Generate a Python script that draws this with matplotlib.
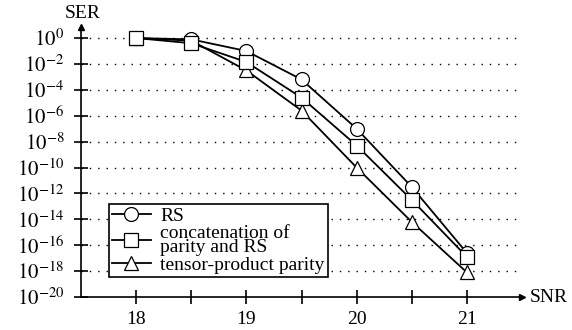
import matplotlib
matplotlib.use("Agg")
import matplotlib.pyplot as plt
import numpy as np

plt.rcParams['font.family'] = ['Liberation Serif', 'DejaVu Serif']
plt.rcParams['mathtext.fontset'] = 'stix'

# SNR values and SER (log10)
snr = [18, 18.5, 19, 19.5, 20, 20.5, 21]
ser_rs = [0, -0.1, -1.0, -3.2, -7.0, -11.5, -16.6]
ser_concat = [0, -0.4, -1.85, -4.6, -8.3, -12.5, -16.9]
ser_tensor = [0, -0.2, -2.5, -5.6, -10.0, -14.2, -18.1]

labels = ["RS", "concatenation of\nparity and RS", "tensor-product parity"]
markers = ["o", "s", "^"]
zorders = [4, 5, 3]

y_exp = list(range(0, -21, -2))
x_ticks = [18, 18.5, 19, 19.5, 20, 20.5, 21]
x_labels = ["18", "", "19", "", "20", "", "21"]

fig = plt.figure(figsize=(5.72, 3.30), dpi=100)
ax = fig.add_axes([0.1416, 0.1, 0.771, 0.818])

series = [ser_rs, ser_concat, ser_tensor]
for s, lab, mk, z in zip(series, labels, markers, zorders):
    ax.plot(snr, [10.0 ** v for v in s], color="black", lw=1.3, marker=mk,
            markersize=10, markerfacecolor="white", markeredgecolor="black",
            markeredgewidth=0.9, label=lab, clip_on=False, zorder=z)

ax.set_yscale("log")
ax.set_xlim(17.5, 21.5)
ax.set_ylim(1e-20, 10 ** 0.85)
ax.set_yticks([10.0 ** e for e in y_exp])
ax.set_yticklabels([r"$10^{%d}$" % e for e in y_exp], fontsize=15)
ax.yaxis.set_minor_locator(matplotlib.ticker.NullLocator())
ax.set_xticks(x_ticks)
ax.set_xticklabels(x_labels, fontsize=14)
ax.tick_params(direction="inout", length=10, width=1.2, colors="black")
ax.tick_params(axis="y", pad=7)
ax.tick_params(axis="x", pad=5)

for e in y_exp[:-1]:
    ax.axhline(10.0 ** e, color="black", lw=1.0, ls=(0, (1, 5)), zorder=1)

ax.spines["top"].set_visible(False)
ax.spines["right"].set_visible(False)
ax.spines["left"].set_linewidth(1.2)
ax.spines["bottom"].set_linewidth(1.2)
ax.plot(1, 0, ">k", markersize=5, transform=ax.transAxes, clip_on=False)
ax.plot(0, 1, "^k", markersize=5, transform=ax.transAxes, clip_on=False)

fig.text(0.145, 0.96, "SER", fontsize=14, ha="center", va="center")
fig.text(0.926, 0.1, "SNR", fontsize=14, ha="left", va="center")

leg = ax.legend(loc="lower left", bbox_to_anchor=(0.063, 0.075), fontsize=14,
                fancybox=False, framealpha=1, edgecolor="black",
                borderpad=0.15, labelspacing=0.0, handlelength=2.0,
                handletextpad=0.5, borderaxespad=0)
leg.get_frame().set_linewidth(1.2)
for t in leg.get_texts():
    t.set_linespacing(0.8)

fig.savefig("out.png", dpi=100)
